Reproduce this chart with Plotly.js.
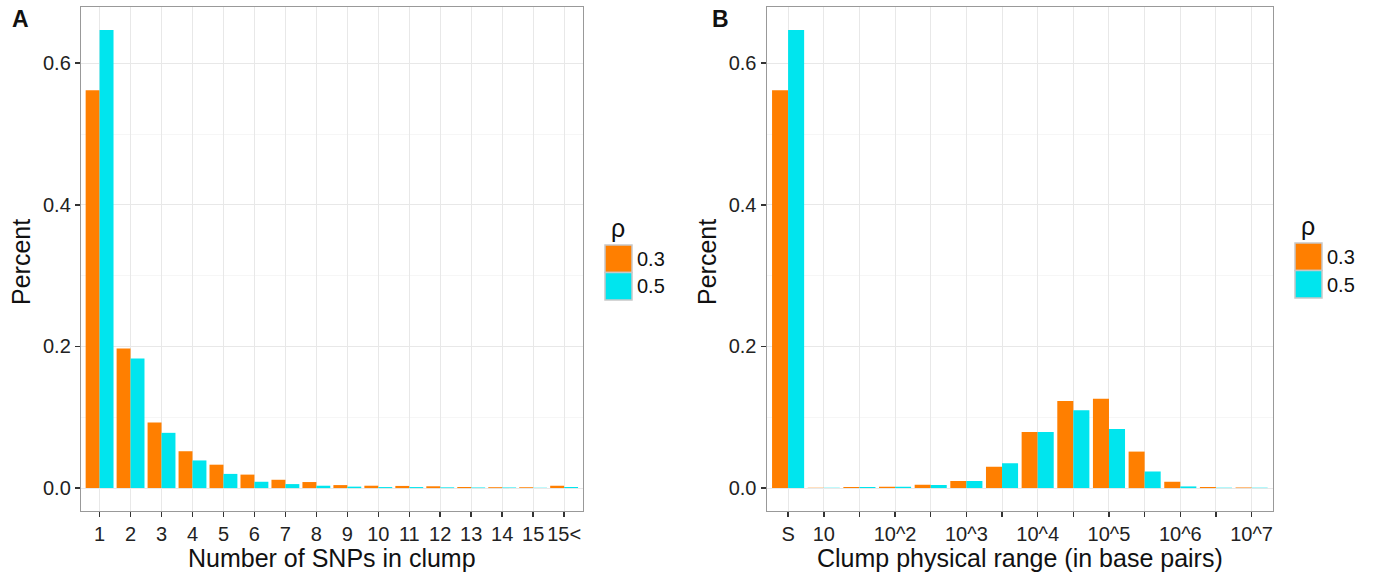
<!DOCTYPE html>
<html>
<head>
<meta charset="utf-8">
<script src="https://cdn.plot.ly/plotly-3.0.1.min.js"></script>
<style>html,body{margin:0;padding:0;background:#fff;}#chart{width:1374px;height:575px;}</style>
</head>
<body>
<div id="chart"></div>
<script>
// ---- Data ----
var seriesNames = ["0.3", "0.5"];
var seriesColors = ["#FF7F00", "#00E5EE"];

var snpCategories = ["1","2","3","4","5","6","7","8","9","10","11","12","13","14","15","15<"];
var snpRho03 = [0.562, 0.197, 0.0925, 0.052, 0.033, 0.019, 0.0117, 0.0085, 0.0042, 0.0033, 0.003, 0.0025, 0.0015, 0.0012, 0.0012, 0.0033];
var snpRho05 = [0.647, 0.183, 0.078, 0.039, 0.020, 0.0089, 0.0056, 0.0033, 0.002, 0.0014, 0.0014, 0.001, 0.0008, 0.0008, 0.0005, 0.0014];

var rangeCategories = ["S","10","10^1.5","10^2","10^2.5","10^3","10^3.5","10^4","10^4.5","10^5","10^5.5","10^6","10^6.5","10^7"];
var rangeTickLabels = ["S","10","","10^2","","10^3","","10^4","","10^5","","10^6","","10^7"];
var rangeRho03 = [0.562, 0.0004, 0.0015, 0.002, 0.0045, 0.0099, 0.030, 0.079, 0.123, 0.126, 0.0515, 0.0089, 0.0015, 0.0008];
var rangeRho05 = [0.647, 0.0003, 0.0015, 0.002, 0.0042, 0.0099, 0.035, 0.079, 0.110, 0.0835, 0.0234, 0.0023, 0.0005, 0.0005];

var yTickVals = [0, 0.2, 0.4, 0.6];

// ---- Layout helpers (pixel -> paper) ----
var W = 1374, H = 575;
function PX(p){ return p / W; }
function PY(p){ return 1 - p / H; }

var fontFam = "Liberation Sans, Arial, Helvetica, sans-serif";
var gridMajor = "#e8e8e8", gridMinor = "#f6f6f6", frameCol = "#999999";

function xAxis(domain, cats, labels){
  return {
    domain: domain, type: "category", range: [-0.6, cats.length - 0.4],
    tickmode: "array", tickvals: cats, ticktext: labels,
    showline: true, mirror: true, linecolor: frameCol, linewidth: 1.2,
    ticks: "outside", ticklen: 5, tickwidth: 1.5, tickcolor: "#333",
    showgrid: true, gridcolor: gridMajor, gridwidth: 1,
    zeroline: false, fixedrange: true, automargin: false,
    tickfont: {family: fontFam, size: 20, color: "#222"}
  };
}
function yAxis(anchor){
  return {
    domain: [64 / H, 568 / H], anchor: anchor,
    range: [-0.0324, 0.6794],
    tickmode: "array", tickvals: yTickVals, tickformat: ".1f",
    showline: true, mirror: true, linecolor: frameCol, linewidth: 1.2,
    ticks: "outside", ticklen: 5, tickwidth: 1.5, tickcolor: "#333",
    showgrid: true, gridcolor: gridMajor, gridwidth: 1,
    minor: {dtick: 0.1, tick0: 0, showgrid: true, gridcolor: gridMinor, gridwidth: 1, ticks: ""},
    zeroline: false, fixedrange: true, automargin: false,
    tickfont: {family: fontFam, size: 20, color: "#222"}
  };
}

var traces = [
  {type: "bar", x: snpCategories, y: snpRho03, name: seriesNames[0], marker: {color: seriesColors[0], line: {width: 0}}, xaxis: "x", yaxis: "y", offsetgroup: "a"},
  {type: "bar", x: snpCategories, y: snpRho05, name: seriesNames[1], marker: {color: seriesColors[1], line: {width: 0}}, xaxis: "x", yaxis: "y", offsetgroup: "b"},
  {type: "bar", x: rangeCategories, y: rangeRho03, name: seriesNames[0], marker: {color: seriesColors[0], line: {width: 0}}, xaxis: "x2", yaxis: "y2", offsetgroup: "a"},
  {type: "bar", x: rangeCategories, y: rangeRho05, name: seriesNames[1], marker: {color: seriesColors[1], line: {width: 0}}, xaxis: "x2", yaxis: "y2", offsetgroup: "b"}
];

var annotations = [];
var shapes = [];
function ann(text, px, py, size, opts){
  var a = {text: text, x: PX(px), y: PY(py), xref: "paper", yref: "paper", showarrow: false,
    font: {family: fontFam, size: size, color: "#111"}, xanchor: "center", yanchor: "middle"};
  for (var k in (opts || {})) a[k] = opts[k];
  annotations.push(a);
}
// panel letters
ann("<b>A</b>", 20, 19, 23);
ann("<b>B</b>", 720, 19, 23);
// axis titles
ann("Percent", 21, 262, 25, {textangle: -90});
ann("Percent", 707, 262, 25, {textangle: -90});
ann("Number of SNPs in clump", 332, 558, 25);
ann("Clump physical range (in base pairs)", 1020, 558, 25);

// legends
function legend(x0, y0){
  ann("ρ", x0 + 4, y0 - 17, 25, {xanchor: "left"});
  for (var i = 0; i < seriesNames.length; i++){
    var top = y0 + i * 27.5;
    shapes.push({type: "rect", xref: "paper", yref: "paper",
      x0: PX(x0), x1: PX(x0 + 27), y0: PY(top), y1: PY(top + 27.5),
      fillcolor: seriesColors[i], line: {color: "#c8c8c8", width: 1.5}});
    ann(seriesNames[i], x0 + 30, top + 14, 20, {xanchor: "left"});
  }
}
legend(605, 245);
legend(1295, 243);

var layout = {
  width: W, height: H,
  margin: {l: 0, r: 0, t: 0, b: 0},
  paper_bgcolor: "#fff", plot_bgcolor: "#fff",
  showlegend: false,
  barmode: "group", bargap: 0.1, bargroupgap: 0,
  xaxis: xAxis([81 / W, 582.7 / W], snpCategories, snpCategories),
  yaxis: yAxis("x"),
  xaxis2: xAxis([766.7 / W, 1273 / W], rangeCategories, rangeTickLabels),
  yaxis2: yAxis("x2"),
  annotations: annotations,
  shapes: shapes,
  font: {family: fontFam}
};

Plotly.newPlot("chart", traces, layout, {staticPlot: true, displayModeBar: false});
</script>
</body>
</html>
